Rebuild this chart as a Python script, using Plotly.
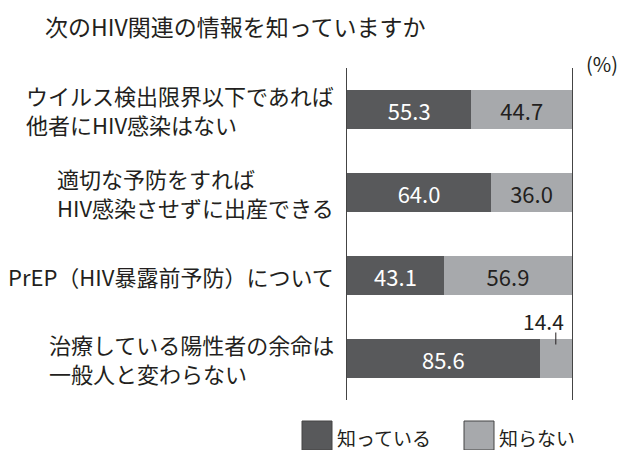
import plotly.graph_objects as go

# data
categories = ["ウイルス検出限界以下であれば<br>他者にHIV感染はない",
              "適切な予防をすれば<br>HIV感染させずに出産できる",
              "PrEP（HIV暴露前予防）について",
              "治療している陽性者の余命は<br>一般人と変わらない"]
know = [55.3, 64.0, 43.1, 85.6]
not_know = [44.7, 36.0, 56.9, 14.4]
series_names = ["知っている", "知らない"]
title_text = "次のHIV関連の情報を知っていますか"

FONT = "Noto Sans CJK JP, Noto Sans, sans-serif"
DARK = "#58595b"
LIGHT = "#a7a9ac"
TXT = "#231f20"

# the page puts the plot 8px in from the top-left corner
OFF = 8
W, H = 625 - OFF, 450 - OFF
# plot area in page pixels
L, R, T, B = 347, 572, 68, 400
def px_x(p):
    return (p - L) / (R - L)
def px_y(p):
    return (B - p) / (B - T)

ids = list(range(len(categories)))

fig = go.Figure()
fig.add_trace(go.Bar(
    y=ids, x=know, orientation="h", name=series_names[0],
    marker=dict(color=DARK, line=dict(width=0)),
    text=[f"{v:.1f}" for v in know], textposition="inside",
    insidetextanchor="middle",
    textfont=dict(color="white", size=22, family=FONT),
))
# the small 14.4 gets its label outside, with a leader tick
small = [v < 20 for v in not_know]
fig.add_trace(go.Bar(
    y=ids, x=not_know, orientation="h", name=series_names[1],
    marker=dict(color=LIGHT, line=dict(width=0)),
    text=["" if s else f"{v:.1f}" for v, s in zip(not_know, small)],
    textposition="inside", insidetextanchor="middle",
    textfont=dict(color=TXT, size=22, family=FONT),
))

annotations = []
shapes = []
for i, (k, n, s) in enumerate(zip(know, not_know, small)):
    if s:
        mid = k + n / 2
        annotations.append(dict(
            x=mid, y=i, xref="x", yref="y", text=f"{n:.1f}",
            showarrow=False, xshift=-12, yshift=38, yanchor="middle",
            font=dict(size=21, color=TXT, family=FONT)))
        shapes.append(dict(type="line", xref="x", yref="y", ysizemode="pixel",
                           yanchor=i, x0=mid, x1=mid, y0=14, y1=26,
                           line=dict(color=TXT, width=1)))

for i, c in enumerate(categories):
    annotations.append(dict(
        x=0, y=i, xref="paper", yref="y", text=c, showarrow=False,
        xanchor="right", yanchor="middle", align="left", xshift=-11,
        font=dict(size=22, color=TXT, family=FONT)))

annotations.append(dict(x=px_x(584), y=px_y(63), xref="paper", yref="paper",
                        text="(%)", showarrow=False, xanchor="left", yanchor="middle",
                        font=dict(size=20, color=TXT, family=FONT)))

# legend drawn by hand (big squares)
legend_items = [(302, DARK, series_names[0]), (464, LIGHT, series_names[1])]
for x0, col, name in legend_items:
    shapes.append(dict(type="rect", xref="paper", yref="paper",
                       x0=px_x(x0), x1=px_x(x0 + 30), y0=px_y(421), y1=px_y(450),
                       fillcolor=col, line=dict(color="#444", width=1)))
    annotations.append(dict(x=px_x(x0 + 33), y=px_y(437), xref="paper", yref="paper",
                            text=name, showarrow=False, xanchor="left", yanchor="middle",
                            font=dict(size=19, color=TXT, family=FONT)))

fig.update_layout(
    barmode="stack", bargap=0.54,
    width=W, height=H, autosize=False,
    margin=dict(l=L - OFF, r=625 - R, t=T - OFF, b=450 - B, pad=0),
    paper_bgcolor="white", plot_bgcolor="white",
    showlegend=False,
    title=dict(text=title_text, xref="container", x=(45 - OFF) / W, xanchor="left",
               yref="container", y=1 - (28 - OFF) / H, yanchor="middle",
               font=dict(size=23, color=TXT, family=FONT)),
    xaxis=dict(range=[0, 100], showgrid=False, zeroline=False,
               showticklabels=False, showline=False, fixedrange=True),
    yaxis=dict(range=[3.5, -0.5], showgrid=False, zeroline=False,
               showticklabels=False, showline=True, mirror=True,
               linecolor="#444", linewidth=1),
    annotations=annotations, shapes=shapes,
    font=dict(family=FONT, color=TXT),
)

fig.write_html("out.html")
